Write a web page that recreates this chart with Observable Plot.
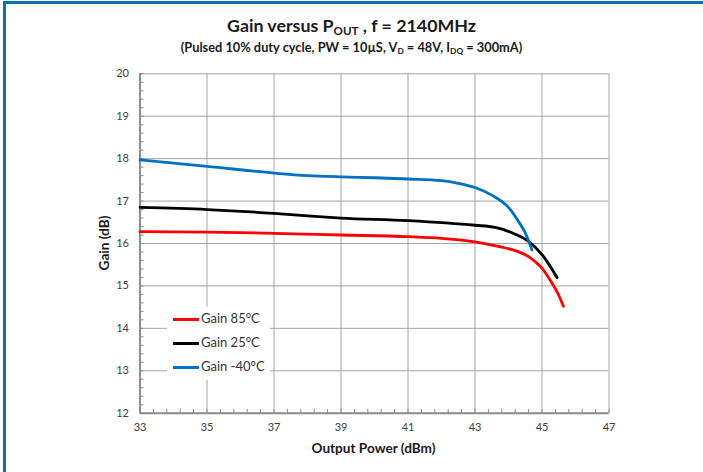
<!DOCTYPE html>
<html>
<head>
<meta charset="utf-8">
<script src="https://cdn.jsdelivr.net/npm/d3@7"></script>
<script src="https://cdn.jsdelivr.net/npm/@observablehq/plot@0.6"></script>
<style>
  html, body { margin: 0; padding: 0; background: #fff; }
  #wrap { position: relative; width: 703px; height: 472px; overflow: hidden; font-family: Lato, "Open Sans", sans-serif; }
  #wrap svg { position: absolute; left: 0; top: 0; }
  .abs { position: absolute; white-space: nowrap; }
  #title { left: 0; width: 703px; top: 14px; text-align: center; font-weight: bold; font-size: 17.8px; color: #1a1a1a; }
  #subtitle { left: 0; width: 703px; top: 39px; text-align: center; font-weight: bold; font-size: 12.8px; color: #1a1a1a; }
  sub { font-size: 0.65em; vertical-align: -0.3em; line-height: 0; }
  #xlabel { left: 139px; width: 469px; top: 440px; text-align: center; font-weight: bold; font-size: 13.6px; color: #1a1a1a; }
  #ylabel { left: 104px; top: 243px; transform: translate(-50%, -50%) rotate(-90deg); font-weight: bold; font-size: 13.6px; color: #1a1a1a; }
  #legend { left: 167px; top: 307px; width: 103px; height: 73px; background: #fff; }
  .lrow { position: absolute; left: 0; height: 16px; font-size: 13px; color: #333; }
  .lrow span.sw { position: absolute; left: 6px; top: 7px; width: 26px; height: 3px; }
  .lrow span.tx { position: absolute; left: 34px; top: -1px; }
  #bl { left: 3px; top: 1px; width: 3px; height: 471px; background: #0a6fb0; }
  #bt { left: 3px; top: 1px; width: 700px; height: 3px; background: #0a6fb0; }
</style>
</head>
<body>
<div id="wrap">
  <div id="chart"></div>
  <div class="abs" id="title">Gain versus P<sub>OUT</sub> , f = 2140MHz</div>
  <div class="abs" id="subtitle">(Pulsed 10% duty cycle, PW = 10µS, V<sub>D</sub> = 48V, I<sub>DQ</sub> = 300mA)</div>
  <div class="abs" id="xlabel">Output Power (dBm)</div>
  <div class="abs" id="ylabel">Gain (dB)</div>
  <div class="abs" id="legend"></div>
  <div class="abs" id="bl"></div>
  <div class="abs" id="bt"></div>
</div>
<script>
// ---- data ----
const seriesNames = ["Gain 85°C", "Gain 25°C", "Gain -40°C"];
const seriesColors = ["#ff0000", "#000000", "#0070c0"];

const power85 = [33, 35, 37, 39, 41, 42, 43, 43.7, 44.25, 44.6, 44.8, 45, 45.25, 45.5, 45.64];
const gain85  = [16.28, 16.27, 16.24, 16.2, 16.16, 16.12, 16.04, 15.93, 15.82, 15.69, 15.57, 15.42, 15.13, 14.78, 14.52];

const power25 = [33, 35, 37, 38, 39, 41, 43, 43.6, 44.2, 44.6, 45, 45.45];
const gain25  = [16.85, 16.8, 16.71, 16.65, 16.6, 16.54, 16.43, 16.38, 16.22, 16.05, 15.74, 15.2];

const powerM40 = [33, 35, 37, 38, 39, 40, 41, 42, 42.5, 43, 43.5, 44, 44.3, 44.5, 44.7];
const gainM40  = [17.97, 17.82, 17.66, 17.6, 17.57, 17.55, 17.52, 17.48, 17.42, 17.32, 17.14, 16.85, 16.52, 16.25, 15.85];

const xTicks = [33, 35, 37, 39, 41, 43, 45, 47];
const yTicks = [12, 13, 14, 15, 16, 17, 18, 19, 20];

const powers = [power85, power25, powerM40];
const gains = [gain85, gain25, gainM40];
const data = seriesNames.flatMap((name, i) =>
  powers[i].map((p, j) => ({series: name, power: p, gain: gains[i][j]})));

const xMinor = d3.range(33, 47.001, 0.4);
const yMinor = d3.range(12, 20.001, 0.2);

const chart = Plot.plot({
  width: 703,
  height: 472,
  marginLeft: 139.5,
  marginRight: 94.5,
  marginTop: 73.3,
  marginBottom: 59.3,
  style: {fontFamily: "Lato, 'Open Sans', sans-serif", fontSize: "11px", color: "#404040", background: "transparent"},
  x: {domain: [33, 47]},
  y: {domain: [12, 20]},
  color: {domain: seriesNames, range: seriesColors},
  marks: [
    Plot.gridX(xTicks, {stroke: "#a6a6a6", strokeOpacity: 1, strokeWidth: 1}),
    Plot.gridY(yTicks, {stroke: "#a6a6a6", strokeOpacity: 1, strokeWidth: 1}),
    Plot.ruleX(xMinor, {y1: 12, y2: 12.09, stroke: "#8c8c8c", strokeWidth: 1}),
    Plot.ruleY(yMinor, {x1: 33, x2: 33.12, stroke: "#8c8c8c", strokeWidth: 1}),
    Plot.ruleX([33], {stroke: "#8c8c8c", strokeWidth: 2}),
    Plot.ruleY([12], {stroke: "#8c8c8c", strokeWidth: 2}),
    Plot.axisX(xTicks, {tickSize: 0, tickPadding: 10, label: null, fill: "#404040"}),
    Plot.axisY(yTicks, {tickSize: 0, tickPadding: 11, label: null, fill: "#404040"}),
    Plot.line(data, {x: "power", y: "gain", z: "series", stroke: "series", strokeWidth: 2.8, curve: "monotone-x"})
  ]
});
document.getElementById("chart").appendChild(chart);

// legend
const legend = document.getElementById("legend");
seriesNames.forEach((name, i) => {
  const row = document.createElement("div");
  row.className = "lrow";
  row.style.top = (4 + i * 24) + "px";
  row.innerHTML = `<span class="sw" style="background:${seriesColors[i]}"></span><span class="tx">${name}</span>`;
  legend.appendChild(row);
});
</script>
</body>
</html>
